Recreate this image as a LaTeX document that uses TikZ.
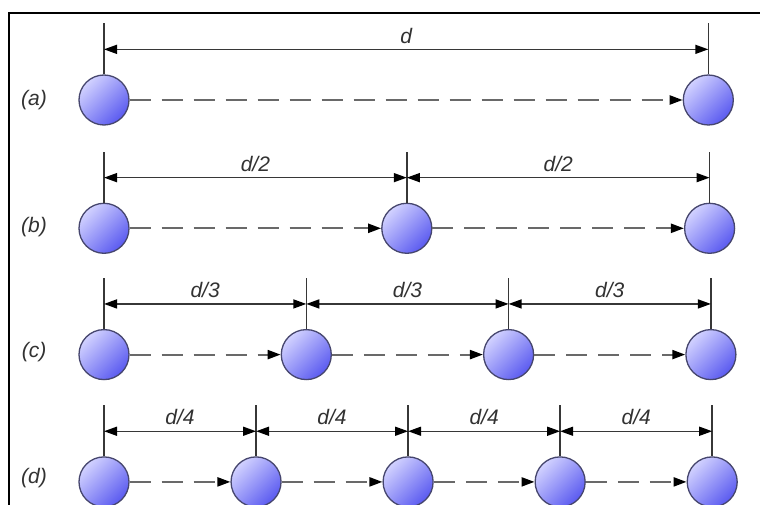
\documentclass[tikz,border=0pt]{standalone}
\usepackage{fontspec}
\setmainfont{Liberation Sans}
\usetikzlibrary{arrows.meta, positioning}

\definecolor{balltop}{RGB}{210,210,255}
\definecolor{ballbottom}{RGB}{90,90,240}
\definecolor{ballline}{RGB}{70,70,110}
\definecolor{dimgray}{RGB}{55,55,55}
\definecolor{dashgray}{RGB}{105,105,105}
\definecolor{labelgray}{RGB}{50,50,50}

\begin{document}
\begin{tikzpicture}[
    x=1pt, y=1pt,
    ball/.style={circle, minimum size=50pt, inner sep=0pt, draw=ballline, line width=1.3pt,
        top color=balltop, bottom color=ballbottom, shading angle=45},
    ext/.style={draw=dimgray, line width=1.5pt},
    dim/.style={draw=dimgray, line width=1.5pt,
        {Triangle[length=13pt,width=9pt,color=black]}-{Triangle[length=13pt,width=9pt,color=black]}},
    hop/.style={draw=dashgray, line width=2.2pt, dash pattern=on 21pt off 11pt,
        -{Triangle[length=13pt,width=9pt,color=black]}},
    dimtext/.style={above=2pt, text=labelgray, font=\fontsize{21}{24}\selectfont\itshape},
    rowtext/.style={text=labelgray, font=\fontsize{21}{24}\selectfont\itshape}
]

    % Canvas and frame
    \useasboundingbox[fill=white] (0,0) rectangle (760,504);
    \draw[line width=2pt] (9,-20) rectangle (800,491);

    % Nodes
    \node[ball] (a0) at (104,404) {};
    \node[ball, right=553pt of a0] (a1) {};

    \node[ball, below=77pt of a0] (b0) {};
    \node[ball, right=251.5pt of b0] (b1) {};
    \node[ball, right=251.5pt of b1] (b2) {};

    \node[ball, below=75pt of b0] (c0) {};
    \node[ball, right=151pt of c0] (c1) {};
    \node[ball, right=151pt of c1] (c2) {};
    \node[ball, right=151pt of c2] (c3) {};

    \node[ball, below=76pt of c0] (d0) {};
    \node[ball, right=100.75pt of d0] (d1) {};
    \node[ball, right=100.75pt of d1] (d2) {};
    \node[ball, right=100.75pt of d2] (d3) {};
    \node[ball, right=100.75pt of d3] (d4) {};

    % Row labels
    \node[rowtext] (la) at (34,404) {(a)};
    \node[rowtext] (lb) at (34,277) {(b)};
    \node[rowtext] (lc) at (34,152) {(c)};
    \node[rowtext] (ld) at (34,26) {(d)};

    % Extension lines
    \draw[ext] (a0.north) -- ++(0,51);
    \draw[ext] (a1.north) -- ++(0,51);
    \draw[ext] (b0.north) -- ++(0,51);
    \draw[ext] (b1.north) -- ++(0,51);
    \draw[ext] (b2.north) -- ++(0,51);
    \draw[ext] (c0.north) -- ++(0,51);
    \draw[ext] (c1.north) -- ++(0,51);
    \draw[ext] (c2.north) -- ++(0,51);
    \draw[ext] (c3.north) -- ++(0,51);
    \draw[ext] (d0.north) -- ++(0,51);
    \draw[ext] (d1.north) -- ++(0,51);
    \draw[ext] (d2.north) -- ++(0,51);
    \draw[ext] (d3.north) -- ++(0,51);
    \draw[ext] (d4.north) -- ++(0,51);

    % Dimension lines
    \draw[dim] ([yshift=25pt]a0.north) -- node[dimtext] (ta1) {d} ([yshift=25pt]a1.north);

    \draw[dim] ([yshift=25pt]b0.north) -- node[dimtext] (tb1) {d/2} ([yshift=25pt]b1.north);
    \draw[dim] ([yshift=25pt]b1.north) -- node[dimtext] (tb2) {d/2} ([yshift=25pt]b2.north);

    \draw[dim] ([yshift=25pt]c0.north) -- node[dimtext] (tc1) {d/3} ([yshift=25pt]c1.north);
    \draw[dim] ([yshift=25pt]c1.north) -- node[dimtext] (tc2) {d/3} ([yshift=25pt]c2.north);
    \draw[dim] ([yshift=25pt]c2.north) -- node[dimtext] (tc3) {d/3} ([yshift=25pt]c3.north);

    \draw[dim] ([yshift=25pt]d0.north) -- node[dimtext] (td1) {d/4} ([yshift=25pt]d1.north);
    \draw[dim] ([yshift=25pt]d1.north) -- node[dimtext] (td2) {d/4} ([yshift=25pt]d2.north);
    \draw[dim] ([yshift=25pt]d2.north) -- node[dimtext] (td3) {d/4} ([yshift=25pt]d3.north);
    \draw[dim] ([yshift=25pt]d3.north) -- node[dimtext] (td4) {d/4} ([yshift=25pt]d4.north);

    % Hops
    \draw[hop] (a0) -- (a1);
    \draw[hop] (b0) -- (b1);
    \draw[hop] (b1) -- (b2);
    \draw[hop] (c0) -- (c1);
    \draw[hop] (c1) -- (c2);
    \draw[hop] (c2) -- (c3);
    \draw[hop] (d0) -- (d1);
    \draw[hop] (d1) -- (d2);
    \draw[hop] (d2) -- (d3);
    \draw[hop] (d3) -- (d4);
\end{tikzpicture}
\end{document}
